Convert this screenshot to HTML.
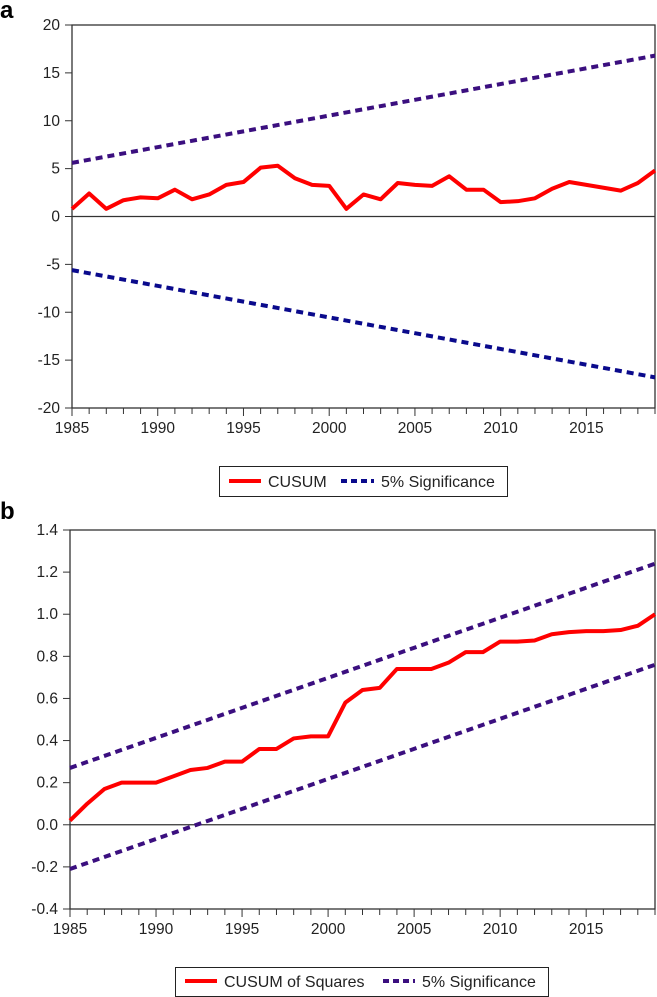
<!DOCTYPE html>
<html><head><meta charset="utf-8"><style>
body{margin:0;background:#fff}
svg{display:block;font-family:"Liberation Sans",Arial,sans-serif}
</style></head><body>
<svg id="s" width="657" height="997" viewBox="0 0 657 997">
<text x="0" y="18" font-size="24" font-weight="bold">a</text>
<text x="0" y="519" font-size="24" font-weight="bold">b</text>
<g id="ga"></g>
<g id="gb"></g>
<g>
<rect x="219.5" y="466.5" width="288" height="30" fill="#fff" stroke="#222"/>
<line x1="229" y1="481" x2="261" y2="481" stroke="#f00" stroke-width="4"/>
<text x="268" y="487" font-size="16" fill="#222">CUSUM</text>
<line x1="341" y1="481" x2="374" y2="481" stroke="#0a0a8c" stroke-width="4" stroke-dasharray="6,4"/>
<text x="381" y="487" font-size="16" fill="#222">5% Significance</text>
</g>
<g>
<rect x="175.5" y="967.5" width="373" height="29" fill="#fff" stroke="#222"/>
<line x1="185" y1="981" x2="217" y2="981" stroke="#f00" stroke-width="4"/>
<text x="224" y="987" font-size="16" fill="#222">CUSUM of Squares</text>
<line x1="383" y1="981" x2="415" y2="981" stroke="#3b0f7f" stroke-width="4" stroke-dasharray="6,4"/>
<text x="422" y="987" font-size="16" fill="#222">5% Significance</text>
</g>
</svg>
<script>
const years=[];for(let y=1985;y<=2019;y++)years.push(y);
const xTicks=[1985,1990,1995,2000,2005,2010,2015];
const cusum=[0.8,2.4,0.8,1.7,2.0,1.9,2.8,1.8,2.3,3.3,3.6,5.1,5.3,4.0,3.3,3.2,0.8,2.3,1.8,3.5,3.3,3.2,4.2,2.8,2.8,1.5,1.6,1.9,2.9,3.6,3.3,3.0,2.7,3.5,4.8];
const cusumBoundStart=5.6, cusumBoundEnd=16.8;
const yTicksA=[20,15,10,5,0,-5,-10,-15,-20];
const cusumSq=[0.02,0.10,0.17,0.20,0.20,0.20,0.23,0.26,0.27,0.30,0.30,0.36,0.36,0.41,0.42,0.42,0.58,0.64,0.65,0.74,0.74,0.74,0.77,0.82,0.82,0.87,0.87,0.875,0.905,0.915,0.92,0.92,0.925,0.945,1.0];
const sqUpper=[0.27,1.24], sqLower=[-0.21,0.76];
const yTicksB=[1.4,1.2,1.0,0.8,0.6,0.4,0.2,0.0,-0.2,-0.4];
const NS='http://www.w3.org/2000/svg';
function mk(p,t,a){const e=document.createElementNS(NS,t);for(const k in a)e.setAttribute(k,a[k]);p.appendChild(e);return e;}
function chart(g,L,R,T,B,ymin,ymax,yt,fmt,series,bounds,ids){
  const sx=y=>L+(y-1985)/(2019-1985)*(R-L);
  const sy=v=>B-(v-ymin)/(ymax-ymin)*(B-T);
  let e=mk(g,'rect',{x:L,y:T,width:R-L,height:B-T,fill:'none',stroke:'#333','stroke-width':1.3});
  
  
  e=mk(g,'line',{x1:L,x2:R,y1:sy(0),y2:sy(0),stroke:'#333','stroke-width':1.3});
  
  
  yt.forEach(v=>{
    const y=sy(v);
    mk(g,'line',{x1:L-7,x2:L,y1:y,y2:y,stroke:'#333'});
    e=mk(g,'text',{x:L-12,y:y+5,'font-size':15.5,'text-anchor':'end',fill:'#222'});
    e.textContent=fmt(v);
    
    
  });
  years.forEach(yr=>{mk(g,'line',{x1:sx(yr),x2:sx(yr),y1:B,y2:B+(xTicks.includes(yr)?8:6),stroke:'#333'});});
  xTicks.forEach(yr=>{
    e=mk(g,'text',{x:sx(yr),y:B+25,'font-size':15.5,'text-anchor':'middle',fill:'#222'});
    e.textContent=yr;
    
    
  });
  bounds.forEach((b,i)=>{
    e=mk(g,'line',{x1:sx(1985),y1:sy(b[0]),x2:sx(2019),y2:sy(b[1]),stroke:b[2],'stroke-width':4,'stroke-dasharray':'7,5'});
    
    
  });
  e=mk(g,'polyline',{points:series.map((v,i)=>sx(years[i])+','+sy(v)).join(' '),fill:'none',stroke:'#f00','stroke-width':4,'stroke-linejoin':'round'});
  
  
}
chart(document.getElementById('ga'),72,655,25,408,-20,20,yTicksA,v=>String(v),cusum,
  [[cusumBoundStart,cusumBoundEnd,'#3b0f7f'],[-cusumBoundStart,-cusumBoundEnd,'#0a0a8c']],['upper-bound-line','lower-bound-line']);
chart(document.getElementById('gb'),70,655,530,909,-0.4,1.4,yTicksB,v=>v.toFixed(1),cusumSq,
  [[sqUpper[0],sqUpper[1],'#3b0f7f'],[sqLower[0],sqLower[1],'#3b0f7f']],['upper-bound-line-b','lower-bound-line-b']);
</script>
</body></html>
